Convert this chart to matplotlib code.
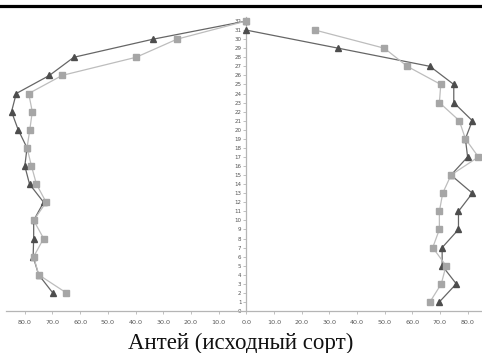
import matplotlib
matplotlib.use("Agg")
import matplotlib.pyplot as plt
from matplotlib.ticker import FuncFormatter, MultipleLocator
from matplotlib.lines import Line2D

# Left half: even levels, right half: odd levels
levels_left = [2, 4, 6, 8, 10, 12, 14, 16, 18, 20, 22, 24, 26, 28, 30, 32]
left_tri = [69.9, 75.0, 77.0, 76.8, 76.8, 73.2, 78.3, 80.0, 79.2, 82.4, 84.8, 83.1, 71.1, 62.3, 33.6, 0.0]
left_sq = [65.0, 75.0, 76.8, 73.2, 76.8, 72.3, 75.8, 77.6, 79.2, 78.2, 77.3, 78.6, 66.5, 39.8, 25.0, 0.0]

levels_right = [1, 3, 5, 7, 9, 11, 13, 15, 17, 19, 21, 23, 25, 27, 29, 31]
right_tri = [69.8, 75.9, 70.8, 70.8, 76.7, 76.7, 81.7, 74.0, 80.0, 79.2, 81.7, 75.0, 75.0, 66.4, 33.3, 0.0]
right_sq = [66.4, 70.5, 72.2, 67.4, 69.8, 69.8, 71.0, 74.0, 83.9, 79.2, 77.0, 69.8, 70.3, 58.2, 49.9, 24.9]

title = "Антей (исходный сорт)"

W, H = 482, 353
fig = plt.figure(figsize=(W / 100, H / 100), dpi=100)
ax = fig.add_axes([6 / W, 1 - 311 / H, (W - 6) / W, (311 - 16.5) / H])

tri_col, tri_line = "#4d4d4d", "#666666"
sq_col, sq_line = "#a6a6a6", "#bdbdbd"

def series(xs, ys, sign, mk, mcol, lcol, ms, z):
    ax.plot([sign * v for v in xs], ys, color=lcol, lw=0.9, zorder=z)
    ax.plot([sign * v for v in xs], ys, ls="none", marker=mk, ms=ms,
            mfc=mcol, mec=mcol, zorder=z + 0.5)

series(left_tri, levels_left, -1, "^", tri_col, tri_line, 4.6, 3)
series(left_sq, levels_left, -1, "s", sq_col, sq_line, 3.8, 4)
series(right_tri, levels_right, 1, "^", tri_col, tri_line, 4.6, 3)
series(right_sq, levels_right, 1, "s", sq_col, sq_line, 3.8, 4)

ax.set_xlim(-86.8, 85.2)
ax.set_ylim(0, 32.5)

for s in ("top", "right"):
    ax.spines[s].set_visible(False)
ax.spines["left"].set_position(("data", 0))
ax.spines["bottom"].set_position(("data", 0))
for s in ("left", "bottom"):
    ax.spines[s].set_color("#b5b5b5")
    ax.spines[s].set_linewidth(0.9)

ax.xaxis.set_major_locator(MultipleLocator(10))
ax.xaxis.set_major_formatter(FuncFormatter(lambda v, p: f"{abs(v):.1f}"))
ax.yaxis.set_major_locator(MultipleLocator(1))
ax.yaxis.set_major_formatter(FuncFormatter(lambda v, p: f"{int(round(v))}"))
ax.tick_params(axis="x", length=2.5, width=0.6, color="#b5b5b5",
               labelsize=4.6, labelcolor="#555555", pad=4)
ax.tick_params(axis="y", length=2, width=0.6, color="#b5b5b5",
               labelsize=4.0, labelcolor="#555555", pad=1.5)
ax.patch.set_alpha(0)

fig.add_artist(Line2D([0, 1], [1 - 5.5 / H, 1 - 5.5 / H], color="black",
                      lw=2.3, transform=fig.transFigure))
fig.text(0.5, 1 - 348.5 / H, title, ha="center", va="baseline",
         family="Liberation Serif", fontsize=16.5, color="#111111")

fig.savefig("out.png", dpi=100)
